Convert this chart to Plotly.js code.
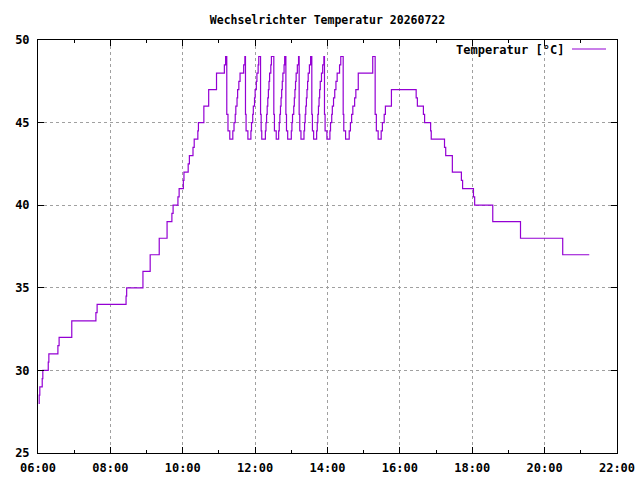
<!DOCTYPE html>
<html>
<head>
<meta charset="utf-8">
<script src="https://cdn.plot.ly/plotly-3.0.1.min.js"></script>
<style>html,body{margin:0;padding:0;background:#fff;}#chart{width:640px;height:480px;}</style>
</head>
<body>
<div id="chart"></div>
<script>
const day = '2026-07-22';
const chartTitle = 'Wechselrichter Temperatur 20260722';
const seriesName = 'Temperatur [°C]';
const times = [
'06:01','06:02','06:03','06:07','06:08','06:17','06:18','06:33','06:35','06:56',
'07:36','07:38','08:26','08:27','08:54','09:06','09:21','09:34','09:42','09:44',
'09:52','09:54','10:01','10:02','10:09','10:11','10:17','10:19','10:25','10:26',
'10:35','10:43','10:56','11:09','11:11','11:13','11:15','11:18','11:23','11:25',
'11:27','11:28','11:30','11:31','11:33','11:35','11:41','11:43','11:44','11:45',
'11:48','11:53','11:54','11:56','11:57','11:59','12:00','12:02','12:03','12:05',
'12:06','12:09','12:10','12:11','12:17','12:18','12:19','12:20','12:21','12:22',
'12:23','12:24','12:26','12:27','12:31','12:32','12:35','12:39','12:40','12:41',
'12:42','12:43','12:44','12:45','12:46','12:48','12:49','12:51','12:52','12:54',
'13:00','13:01','13:02','13:04','13:05','13:06','13:07','13:08','13:10','13:12',
'13:13','13:14','13:16','13:21','13:22','13:23','13:24','13:25','13:26','13:27',
'13:28','13:30','13:32','13:34','13:35','13:37','13:42','13:43','13:44','13:45',
'13:46','13:47','13:48','13:50','13:52','13:54','13:55','13:56','13:59','14:04',
'14:05','14:07','14:08','14:10','14:12','14:14','14:16','14:20','14:22','14:26',
'14:27','14:30','14:36','14:38','14:40','14:42','14:45','14:47','14:51','15:15',
'15:19','15:21','15:24','15:29','15:31','15:34','15:36','15:46','16:27','16:29',
'16:39','16:41','16:51','16:52','17:14','17:16','17:27','17:42','17:44','18:02',
'18:04','18:34','19:20','20:30','21:14'
];
const temps = [
28,28.5,29,29.5,30,30.5,31,31.5,32,33,
33.5,34,34.5,35,36,37,38,39,39.5,40,
40.5,41,41.5,42,42.5,43,43.5,44,44.5,45,
46,47,48,48.5,49,45.5,44.5,44,44.5,45,
45.5,46,46.5,47,47.5,48,48.5,49,45.5,44.5,
44,44.5,45,45.5,46,46.5,47,47.5,48,48.5,
49,45.5,44.5,44,44.5,45,45.5,46,46.5,47,
47.5,48,48.5,49,45.5,44.5,44,44.5,45,45.5,
46,46.5,47,47.5,48,48.5,49,45.5,44.5,44,
44.5,45,45.5,46,46.5,47,47.5,48,48.5,49,
45.5,44.5,44,44.5,45,45.5,46,46.5,47,47.5,
48,48.5,49,45.5,44.5,44,44.5,45,45.5,46,
46.5,47,47.5,48,48.5,49,45.5,44.5,44,44.5,
45,45.5,46,46.5,47,47.5,48,48.5,49,45.5,
44.5,44,44.5,45,45.5,46,46.5,47,48,49,
45.5,44.5,44,44.5,45,45.5,46,47,46.5,46,
45.5,45,44.5,44,43.5,43,42,41.5,41,40.5,
40,39,38,37,37
];
const xTickHours = ['06:00','08:00','10:00','12:00','14:00','16:00','18:00','20:00','22:00'];
const yTicks = [25,30,35,40,45,50];

const FONT = 'DejaVu Sans Mono, Liberation Mono, monospace';
const LINE = '#9400d3';
const xs = times.map(t => day + ' ' + t);

const trace = {
  x: xs, y: temps, type: 'scatter', mode: 'lines', name: seriesName,
  line: {shape: 'hv', color: LINE, width: 1.2}, showlegend: false, hoverinfo: 'skip'
};

const axisCommon = {
  showline: true, linecolor: '#000', linewidth: 1, mirror: 'ticks',
  ticks: 'inside', ticklen: 6, tickcolor: '#000', tickwidth: 1,
  showgrid: true, gridcolor: '#a0a0a0', gridwidth: 1, griddash: '3px,3px',
  zeroline: false,
  tickfont: {family: FONT, size: 12, color: '#000', weight: 'bold'}
};

const layout = {
  width: 640, height: 480,
  margin: {l: 38, r: 23, t: 40, b: 27, pad: 0},
  paper_bgcolor: '#fff', plot_bgcolor: '#fff',
  title: {text: chartTitle, font: {family: FONT, size: 11.5, color: '#000', weight: 'bold'},
          x: 0.5, xref: 'paper', xanchor: 'center', y: 1 - 20/480, yref: 'container', yanchor: 'middle'},
  xaxis: Object.assign({}, axisCommon, {
    type: 'date',
    range: [day + ' ' + xTickHours[0], day + ' ' + xTickHours[xTickHours.length - 1]],
    tickmode: 'array',
    tickvals: xTickHours.map(h => day + ' ' + h),
    ticktext: xTickHours,
    ticklabelstandoff: 4,
    minor: {dtick: 3600000, tick0: day + ' 00:00', ticks: 'inside', ticklen: 3, tickcolor: '#000', showgrid: false}
  }),
  yaxis: Object.assign({}, axisCommon, {
    range: [yTicks[0], yTicks[yTicks.length - 1]],
    tickmode: 'array', tickvals: yTicks, ticktext: yTicks.map(String),
    ticklabelstandoff: 5
  }),
  annotations: [{
    text: seriesName, xref: 'paper', yref: 'paper', x: (566 - 38) / 579, y: (453 - 50) / 413,
    xanchor: 'right', yanchor: 'middle', showarrow: false,
    font: {family: FONT, size: 12, color: '#000', weight: 'bold'}
  }],
  shapes: [{
    type: 'line', xref: 'paper', yref: 'paper',
    x0: (572 - 38) / 579, x1: (606 - 38) / 579, y0: (453 - 49) / 413, y1: (453 - 49) / 413,
    line: {color: LINE, width: 1.2}
  }]
};

Plotly.newPlot('chart', [trace], layout, {staticPlot: true, displayModeBar: false});
</script>
</body>
</html>
